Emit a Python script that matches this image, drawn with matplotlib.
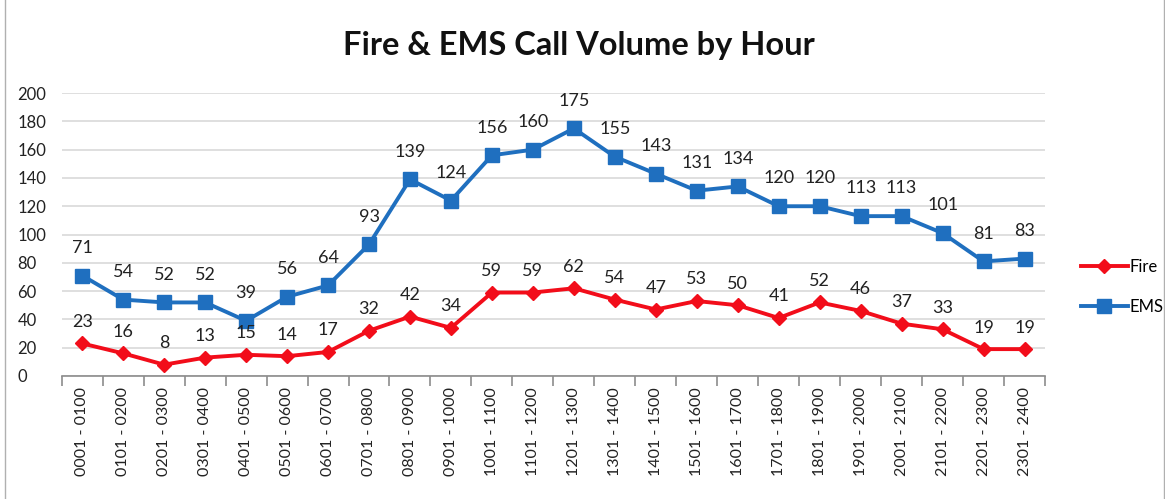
import matplotlib
matplotlib.use("Agg")
import matplotlib.pyplot as plt
from matplotlib.patches import Rectangle

hours = ["0001 - 0100", "0101 - 0200", "0201 - 0300", "0301 - 0400", "0401 - 0500",
         "0501 - 0600", "0601 - 0700", "0701 - 0800", "0801 - 0900", "0901 - 1000",
         "1001 - 1100", "1101 - 1200", "1201 - 1300", "1301 - 1400", "1401 - 1500",
         "1501 - 1600", "1601 - 1700", "1701 - 1800", "1801 - 1900", "1901 - 2000",
         "2001 - 2100", "2101 - 2200", "2201 - 2300", "2301 - 2400"]
fire = [23, 16, 8, 13, 15, 14, 17, 32, 42, 34, 59, 59, 62, 54, 47, 53, 50, 41, 52, 46, 37, 33, 19, 19]
ems = [71, 54, 52, 52, 39, 56, 64, 93, 139, 124, 156, 160, 175, 155, 143, 131, 134, 120, 120, 113, 113, 101, 81, 83]
yticks = [0, 20, 40, 60, 80, 100, 120, 140, 160, 180, 200]

plt.rcParams['font.family'] = ['Lato', 'DejaVu Sans']

fig = plt.figure(figsize=(11.65, 4.99), dpi=100)
fig.patches.append(Rectangle((0.004, -0.01), 0.995, 1.02, transform=fig.transFigure,
                             fill=False, edgecolor='#b0b0b0', linewidth=1))
ax = fig.add_axes([0.053, 0.2465, 0.844, 0.567])

x = list(range(len(hours)))
fire_c = '#f20d1a'
ems_c = '#1f6fbf'
ax.plot(x, ems, color=ems_c, lw=2.8, marker='s', ms=10, label='EMS', zorder=3)
ax.plot(x, fire, color=fire_c, lw=2.8, marker='D', ms=7.5, label='Fire', zorder=3)

for i, v in enumerate(ems):
    ax.annotate(str(v), (i, v), xytext=(0, 20), textcoords='offset points',
                ha='center', va='center', fontsize=13, color='#222222')
for i, v in enumerate(fire):
    ax.annotate(str(v), (i, v), xytext=(0, 15.5), textcoords='offset points',
                ha='center', va='center', fontsize=13, color='#222222')

ax.set_xlim(-0.5, len(hours) - 0.5)
ax.set_ylim(0, 200)
ax.set_yticks(yticks)
ax.set_yticklabels([str(t) for t in yticks], fontsize=12, color='#222222')
ax.yaxis.grid(True, color='#d9d9d9', lw=1.2)
ax.set_axisbelow(True)
ax.tick_params(axis='y', length=0, pad=32)
for lbl in ax.get_yticklabels():
    lbl.set_horizontalalignment('left')

ax.set_xticks(x)
ax.set_xticklabels(hours, rotation=90, fontsize=11.5, color='#222222')
ax.tick_params(axis='x', length=0, pad=8)
ax.set_xticks([i - 0.5 for i in range(len(hours) + 1)], minor=True)
ax.tick_params(axis='x', which='minor', length=7, color='#8c8c8c', width=1.2)

for s in ['top', 'right', 'left']:
    ax.spines[s].set_visible(False)
ax.spines['bottom'].set_color('#8c8c8c')
ax.spines['bottom'].set_linewidth(1.2)

fig.text(0.4965, 0.908, 'Fire & EMS Call Volume by Hour', ha='center', va='center',
         fontsize=23.5, fontweight='bold', color='#111111')

handles, labels = ax.get_legend_handles_labels()
leg = fig.legend([handles[1], handles[0]], [labels[1], labels[0]], loc='center left',
                 bbox_to_anchor=(0.915, 0.425), frameon=False, fontsize=12,
                 handlelength=2.8, handletextpad=0.1, labelspacing=1.45)

fig.savefig('out.png', dpi=100)
